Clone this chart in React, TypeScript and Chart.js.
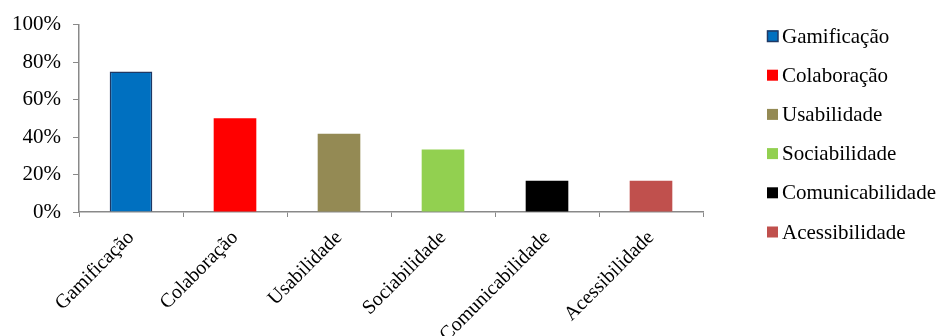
import React, { useEffect, useRef } from "react";
import { Chart, registerables } from "chart.js";

Chart.register(...registerables);

const categories = ["Gamificação", "Colaboração", "Usabilidade", "Sociabilidade", "Comunicabilidade", "Acessibilidade"];
const values = [75, 50, 41.7, 33.3, 16.7, 16.7];
const colors = ["#0070C0", "#FF0000", "#948A54", "#92D050", "#000000", "#C0504D"];
const borderColors = ["#1F3864", "#FF0000", "#948A54", "#92D050", "#000000", "#C0504D"];
const borderWidths = [1.5, 0, 0, 0, 0, 0];
const yMin = 0;
const yMax = 100;
const yStep = 20;

const FONT = '"Liberation Serif", "Times New Roman", serif';
const AXIS = "#898989";
const FS = 21;

const legendPlugin = {
  id: "sideLegend",
  afterDraw(chart: any) {
    const ctx = chart.ctx;
    ctx.save();
    ctx.font = `${FS}px ${FONT}`;
    ctx.textBaseline = "middle";
    ctx.textAlign = "left";
    categories.forEach((c, i) => {
      const y = 36 + i * 39.2;
      ctx.fillStyle = colors[i];
      ctx.fillRect(767, y - 5.5, 11, 11);
      if (borderWidths[i] > 0) {
        ctx.strokeStyle = borderColors[i];
        ctx.lineWidth = 1.5;
        ctx.strokeRect(767.5, y - 5, 10.5, 10.5);
      }
      ctx.fillStyle = "#000";
      ctx.fillText(c, 782, y + 1);
    });
    ctx.restore();
  },
};

export default function App() {
  const ref = useRef<HTMLCanvasElement | null>(null);
  useEffect(() => {
    if (!ref.current) return;
    const chart = new Chart(ref.current, {
      type: "bar",
      data: {
        labels: categories,
        datasets: [
          {
            data: values,
            backgroundColor: colors,
            borderColor: borderColors,
            borderWidth: borderWidths,
            categoryPercentage: 1,
            barPercentage: 0.41,
          },
        ],
      },
      options: {
        animation: false,
        responsive: false,
        devicePixelRatio: 1,
        layout: { padding: { top: 21, right: 236, left: 0, bottom: 0 } },
        plugins: { legend: { display: false }, tooltip: { enabled: false } },
        scales: {
          x: {
            afterFit: (s: any) => {
              s.height = 124;
            },
            grid: {
              drawOnChartArea: false,
              color: AXIS,
              tickLength: 5,
              offset: true,
            },
            border: { color: AXIS, width: 1.5 },
            ticks: {
              color: "#000",
              font: { family: FONT, size: 20 },
              maxRotation: 45,
              minRotation: 45,
              padding: 9,
              autoSkip: false,
            },
          },
          y: {
            min: yMin,
            max: yMax,
            afterFit: (s: any) => {
              s.width = 79;
            },
            grid: { drawOnChartArea: false, color: AXIS, tickLength: 6 },
            border: { color: AXIS, width: 1.5 },
            ticks: {
              stepSize: yStep,
              color: "#000",
              font: { family: FONT, size: FS },
              padding: 12,
              callback: (v: any) => `${v}%`,
            },
          },
        },
      },
      plugins: [legendPlugin],
    });
    return () => chart.destroy();
  }, []);
  return (
    <div style={{ position: "fixed", left: 0, top: 0, width: 939, height: 336, background: "#fff" }}>
      <canvas ref={ref} width={939} height={336} />
    </div>
  );
}
